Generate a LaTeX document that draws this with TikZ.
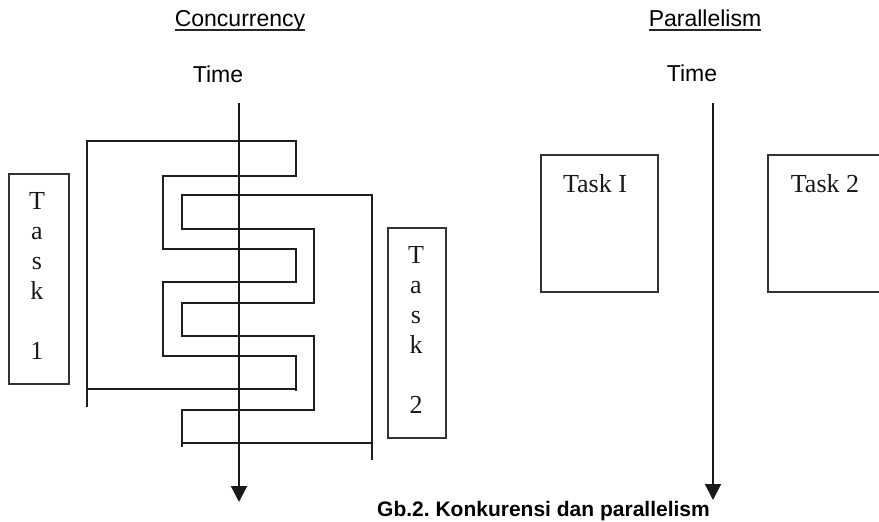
\documentclass[tikz,border=0pt]{standalone}
\usepackage{fontspec}
\setmainfont{Liberation Serif}
\setsansfont{Liberation Sans}
\usetikzlibrary{arrows.meta}
\frenchspacing
\begin{document}
\begin{tikzpicture}[x=1pt,y=-1pt,
  ln/.style={line width=1.6pt, draw=black!88},
  timeaxis/.style={line width=2pt, draw=black!90, -{Triangle[length=16pt,width=16pt]}},
  taskbox/.style={draw=black!80, line width=1.6pt, inner sep=0pt},
  ttl/.style={font=\sffamily\fontsize{23}{26}\selectfont, anchor=base, inner sep=0pt},
  ser/.style={font=\rmfamily\fontsize{26}{30}\selectfont, anchor=base, inner sep=0pt, text=black!90},
  uline/.style={line width=1.3pt, draw=black!85},
]
\useasboundingbox (0,0) rectangle (879,522);

% ---------- Concurrency ----------
\node[ttl] (conc) at (240,27) {Concurrency};
\draw[uline] ([yshift=-3pt]conc.base west) -- ([yshift=-3pt]conc.base east);
\node[ttl] (timeL) at (218,82) {Time};

\coordinate (cA) at (239,103);
\coordinate (cB) at (239,502);

% Task 1 box and letters
\node[taskbox, minimum width=60pt, minimum height=210pt] (tb1) at (39,279) {};
\node[ser] (t1T) at (37,209) {T};
\node[ser] (t1a) at (37,239) {a};
\node[ser] (t1s) at (37,269) {s};
\node[ser] (t1k) at (37,299) {k};
\node[ser] (t1n) at (37,359) {1};

% Task 2 box and letters
\node[taskbox, minimum width=58pt, minimum height=210pt] (tb2) at (417,333) {};
\node[ser] (t2T) at (416,263) {T};
\node[ser] (t2a) at (416,293) {a};
\node[ser] (t2s) at (416,323) {s};
\node[ser] (t2k) at (416,353) {k};
\node[ser] (t2n) at (416,413) {2};

% Task 1 execution path
\draw[ln] (87,407) -- (87,141) -- (296,141) -- (296,176) -- (163,176) -- (163,249)
  -- (296,249) -- (296,282) -- (163,282) -- (163,356) -- (296,356) -- (296,391);
\draw[ln] (296,389) -- (87,389);

% Task 2 execution path
\draw[ln] (372,460) -- (372,195) -- (182,195) -- (182,229) -- (314,229) -- (314,303)
  -- (182,303) -- (182,336) -- (314,336) -- (314,410) -- (182,410) -- (182,447);
\draw[ln] (182,443) -- (372,443);

\draw[timeaxis] (cA) -- (cB);

% ---------- Parallelism ----------
\node[ttl] (para) at (705,27) {Parallelism};
\draw[uline] ([yshift=-3pt]para.base west) -- ([yshift=-3pt]para.base east);
\node[ttl] (timeR) at (692,81) {Time};

\coordinate (pA) at (713,103);
\coordinate (pB) at (713,500);
\draw[timeaxis] (pA) -- (pB);

\node[taskbox, minimum width=117pt, minimum height=137pt] (pb1) at (599.5,223.5) {};
\node[ser] (pt1) at (595,192) {Task I};

\coordinate (pb2a) at (879,155);
\coordinate (pb2b) at (768,155);
\coordinate (pb2c) at (768,292);
\coordinate (pb2d) at (879,292);
\draw[taskbox] (pb2a) -- (pb2b) -- (pb2c) -- (pb2d);
\node[ser] (pt2) at (825,192) {Task 2};

% ---------- Caption ----------
\node[font=\sffamily\bfseries\fontsize{21}{24}\selectfont, anchor=base west, inner sep=0pt] (cap) at (377,516) {Gb.2. Konkurensi dan parallelism};
\end{tikzpicture}
\end{document}
